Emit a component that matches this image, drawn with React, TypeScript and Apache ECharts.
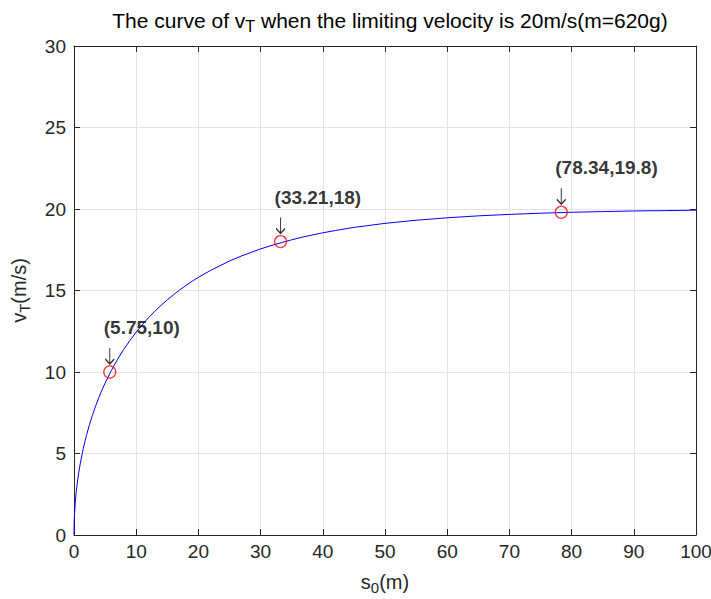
import React, { useEffect, useRef } from "react";
import * as echarts from "echarts";

// Curve readings (s0 in m, vT in m/s)
const sValues = [0, 0.01, 0.05, 0.1, 0.2, 0.35, 0.5, 0.75, 1, 1.5, 2, 2.5, 3, 3.5, 4, 4.5, 5, 6, 7, 8, 9, 10, 11, 12, 13, 14, 15, 16, 17, 18, 19, 20, 22, 25, 27, 30, 32, 35, 37, 40, 42, 45, 47, 50, 55, 60, 65, 70, 75, 80, 85, 90, 95, 100];
const vValues = [0, 0.44, 0.99, 1.4, 1.98, 2.61, 3.11, 3.8, 4.37, 5.32, 6.11, 6.79, 7.39, 7.94, 8.44, 8.9, 9.32, 10.09, 10.78, 11.39, 11.94, 12.45, 12.91, 13.34, 13.73, 14.09, 14.43, 14.74, 15.04, 15.31, 15.57, 15.81, 16.24, 16.81, 17.13, 17.55, 17.79, 18.11, 18.3, 18.54, 18.68, 18.87, 18.97, 19.12, 19.31, 19.46, 19.58, 19.67, 19.74, 19.8, 19.84, 19.88, 19.9, 19.93];

// Marked points
const markS = [5.75, 33.21, 78.34];
const markV = [10, 18, 19.8];
const markLabels = ["(5.75,10)", "(33.21,18)", "(78.34,19.8)"];

const xTicks = [0, 100, 10];
const yTicks = [0, 30, 5];

const FONT = "Liberation Sans, Arial, Helvetica, sans-serif";
const AX = "#262626";

export default function App() {
  const ref = useRef<HTMLDivElement>(null);
  useEffect(() => {
    document.body.style.margin = "0";
    if (!ref.current) return;
    const chart = echarts.init(ref.current, undefined, { renderer: "svg" });
    const lineData = sValues.map((s, i) => [s, vValues[i]]);
    const markData = markS.map((s, i) => [s, markV[i], markLabels[i]]);
    const axisCommon = {
      axisLine: { show: true, onZero: false, lineStyle: { color: AX, width: 1 } },
      axisTick: { show: true, inside: true, length: 6, lineStyle: { color: AX } },
    };
    chart.setOption({
      animation: false,
      backgroundColor: "#fff",
      grid: { left: 74, right: 15, top: 46, bottom: 64, containLabel: false, outerBoundsMode: "none" },
      title: {
        text: "{a|The curve of v}{s|T}{a| when the limiting velocity is 20m/s(m=620g)}",
        left: 385,
        top: 1,
        textAlign: "center",
        textStyle: {
          fontWeight: "normal",
          rich: {
            a: { fontSize: 21, fontWeight: "normal", fontFamily: FONT, color: "#000" },
            s: { fontSize: 16, fontWeight: "normal", fontFamily: FONT, color: "#000", padding: [12, 0, 0, 0] },
          },
        },
      },
      xAxis: [
        {
          type: "value",
          min: xTicks[0],
          max: xTicks[1],
          interval: xTicks[2],
          position: "bottom",
          ...axisCommon,
          axisLabel: { color: AX, fontSize: 19, fontFamily: FONT, margin: 7 },
          splitLine: { show: true, lineStyle: { color: "#e3e3e3", width: 1 } },
          name: "{a|s}{s|0}{a|(m)}",
          nameLocation: "middle",
          nameGap: 34,
          nameTextStyle: {
            rich: {
              a: { fontSize: 20, fontFamily: FONT, color: AX },
              s: { fontSize: 15, fontFamily: FONT, color: AX, padding: [11, 0, 0, 0] },
            },
          },
        },
        {
          type: "value",
          min: xTicks[0],
          max: xTicks[1],
          interval: xTicks[2],
          position: "top",
          ...axisCommon,
          axisLabel: { show: false },
          splitLine: { show: false },
        },
      ],
      yAxis: [
        {
          type: "value",
          min: yTicks[0],
          max: yTicks[1],
          interval: yTicks[2],
          position: "left",
          ...axisCommon,
          axisLabel: { color: AX, fontSize: 19, fontFamily: FONT, margin: 8 },
          splitLine: { show: true, lineStyle: { color: "#e3e3e3", width: 1 } },
          name: "{a|v}{s|T}{a|(m/s)}",
          nameLocation: "middle",
          nameGap: 42,
          nameTextStyle: {
            rich: {
              a: { fontSize: 20, fontFamily: FONT, color: AX },
              s: { fontSize: 15, fontFamily: FONT, color: AX, padding: [12, 0, 0, 0] },
            },
          },
        },
        {
          type: "value",
          min: yTicks[0],
          max: yTicks[1],
          interval: yTicks[2],
          position: "right",
          ...axisCommon,
          axisLabel: { show: false },
          splitLine: { show: false },
        },
      ],
      series: [
        {
          type: "line",
          data: lineData,
          showSymbol: false,
          smooth: false,
          lineStyle: { color: "#0000ff", width: 1 },
          silent: true,
        },
        {
          type: "scatter",
          data: markData,
          symbol: "circle",
          symbolSize: 12,
          itemStyle: { color: "rgba(0,0,0,0)", borderColor: "#ff0000", borderWidth: 1.3 },
          z: 5,
        },
        {
          type: "scatter",
          data: markData,
          symbol: "path://M5,0 L5,16 M1,11 L5,16 L9,11",
          symbolSize: [9, 16],
          symbolOffset: [0, -16],
          itemStyle: { color: "rgba(0,0,0,0)", borderColor: "#000", borderWidth: 1.3 },
          label: {
            show: true,
            position: "top",
            align: "left",
            offset: [-6, -5],
            formatter: (p: any) => p.data[2],
            fontSize: 19,
            fontWeight: "bold",
            fontFamily: FONT,
            color: "#000",
          },
          z: 6,
        },
      ],
    });
    return () => chart.dispose();
  }, []);
  return <div ref={ref} style={{ width: 711, height: 599 }} />;
}
